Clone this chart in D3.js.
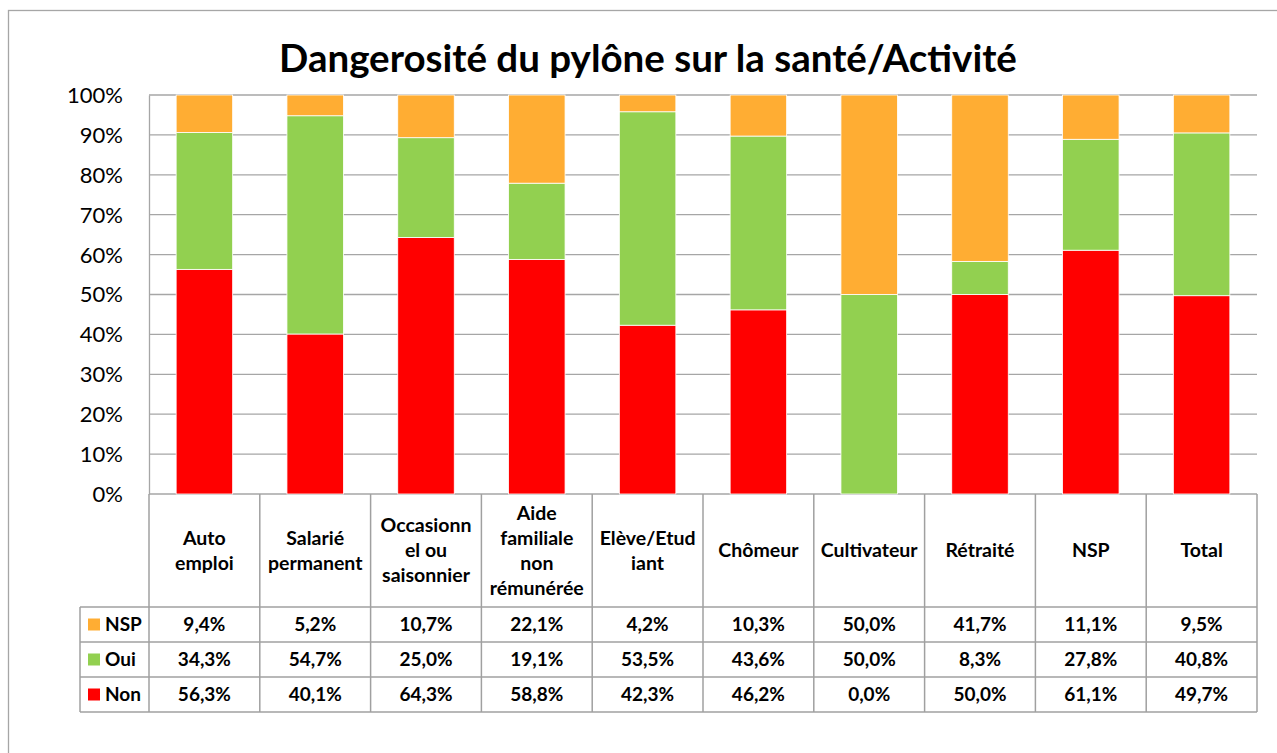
<!DOCTYPE html>
<html>
<head>
<meta charset="utf-8">
<script src="https://cdn.jsdelivr.net/npm/d3@7"></script>
<style>
  body { margin: 0; background: #fff; }
  svg text { font-family: Lato, "Open Sans", sans-serif; fill: #000; }
</style>
</head>
<body>
<svg id="chart" width="1277" height="753"></svg>
<script>
// categories, with the line breaks used in the data table
var categories = ["Auto emploi", "Salarié permanent", "Occasionnel ou saisonnier",
  "Aide familiale non rémunérée", "Elève/Etudiant", "Chômeur", "Cultivateur",
  "Rétraité", "NSP", "Total"];
var categoryLines = [["Auto", "emploi"], ["Salarié", "permanent"], ["Occasionn", "el ou", "saisonnier"],
  ["Aide", "familiale", "non", "rémunérée"], ["Elève/Etud", "iant"], ["Chômeur"], ["Cultivateur"],
  ["Rétraité"], ["NSP"], ["Total"]];

// series (percent)
var nsp = [9.4, 5.2, 10.7, 22.1, 4.2, 10.3, 50.0, 41.7, 11.1, 9.5];
var oui = [34.3, 54.7, 25.0, 19.1, 53.5, 43.6, 50.0, 8.3, 27.8, 40.8];
var non = [56.3, 40.1, 64.3, 58.8, 42.3, 46.2, 0.0, 50.0, 61.1, 49.7];

var seriesNames = ["Non", "Oui", "NSP"];   // stack order, bottom to top
var tableOrder = ["NSP", "Oui", "Non"];    // data table order
var colors = {Non: "#FF0000", Oui: "#92D050", NSP: "#FFAD33"};
var yTicks = [0, 0.1, 0.2, 0.3, 0.4, 0.5, 0.6, 0.7, 0.8, 0.9, 1];

var title = "Dangerosité du pylône sur la santé/Activité";

// build rows for the stack
var values = {Non: non, Oui: oui, NSP: nsp};
var rows = categories.map(function(c, i) {
  var r = {cat: c};
  seriesNames.forEach(function(s) { r[s] = values[s][i]; });
  return r;
});

var svg = d3.select("#chart");

// outer chart border
svg.append("rect")
  .attr("x", 8.5).attr("y", 10.5)
  .attr("width", 1300).attr("height", 800)
  .attr("fill", "none").attr("stroke", "#A6A6A6").attr("stroke-width", 1.3);

var plot = {left: 149, right: 1257, top: 95, bottom: 494};
var tableRows = {head: 607, rowH: 35};

var x = d3.scaleBand()
  .domain(categories)
  .range([plot.left, plot.right])
  .paddingInner(0.49).paddingOuter(0.245);

var y = d3.scaleLinear().domain([0, 1]).range([plot.bottom, plot.top]);

// grid
svg.append("g")
  .selectAll("line").data(yTicks).join("line")
  .attr("x1", plot.left).attr("x2", plot.right)
  .attr("y1", function(d) { return y(d); }).attr("y2", function(d) { return y(d); })
  .attr("stroke", "#A6A6A6").attr("stroke-width", 1.3);

// y axis
var yAxis = svg.append("g")
  .attr("transform", "translate(" + plot.left + ",0)")
  .call(d3.axisLeft(y).tickValues(yTicks).tickFormat(d3.format(".0%")).tickSize(0).tickPadding(26));
yAxis.select(".domain").attr("stroke", "#A6A6A6").attr("stroke-width", 1.3);
yAxis.selectAll("text").attr("font-size", 22).attr("font-family", "Lato").attr("dy", "0.34em");

// stacked bars, normalised to 100%
var stack = d3.stack().keys(seriesNames).offset(d3.stackOffsetExpand);
var layers = stack(rows);

svg.append("g")
  .selectAll("g").data(layers).join("g")
  .attr("fill", function(d) { return colors[d.key]; })
  .selectAll("rect").data(function(d) { return d; }).join("rect")
  .attr("x", function(d) { return x(d.data.cat); })
  .attr("width", x.bandwidth())
  .attr("y", function(d) { return y(d[1]); })
  .attr("height", function(d) { return y(d[0]) - y(d[1]); })
  .attr("stroke", "#fff").attr("stroke-width", 0.8);

// data table
var table = svg.append("g");
var colStep = x.step();
var colEdges = categories.map(function(c, i) { return plot.left + i * colStep; });
colEdges.push(plot.right);
var tableBottom = tableRows.head + tableRows.rowH * 3;
var legendLeft = 80;
var lineColor = "#A0A0A0";

// vertical lines
table.selectAll("line.v").data(colEdges).join("line")
  .attr("class", "v")
  .attr("x1", function(d) { return d; }).attr("x2", function(d) { return d; })
  .attr("y1", plot.bottom).attr("y2", tableBottom)
  .attr("stroke", lineColor).attr("stroke-width", 1.5);
table.append("line")
  .attr("x1", legendLeft).attr("x2", legendLeft)
  .attr("y1", tableRows.head).attr("y2", tableBottom)
  .attr("stroke", lineColor).attr("stroke-width", 1.5);

// horizontal lines
var hLines = [0, 1, 2, 3].map(function(i) { return tableRows.head + i * tableRows.rowH; });
table.selectAll("line.h").data(hLines).join("line")
  .attr("class", "h")
  .attr("x1", legendLeft).attr("x2", plot.right)
  .attr("y1", function(d) { return d; }).attr("y2", function(d) { return d; })
  .attr("stroke", lineColor).attr("stroke-width", 1.5);

// header labels
var headCenter = (plot.bottom + tableRows.head) / 2;
var lineH = 25;
categories.forEach(function(c, i) {
  var lines = categoryLines[i];
  var t = table.append("text")
    .attr("text-anchor", "middle")
    .attr("font-size", 19.5).attr("font-weight", "bold");
  lines.forEach(function(l, j) {
    t.append("tspan")
      .attr("x", x(c) + x.bandwidth() / 2)
      .attr("y", headCenter + (j - (lines.length - 1) / 2) * lineH)
      .attr("dy", "0.35em")
      .text(l);
  });
});

// rows
var fmt = function(v) { return v.toFixed(1).replace(".", ",") + "%"; };
tableOrder.forEach(function(s, r) {
  var cy = tableRows.head + r * tableRows.rowH + tableRows.rowH / 2;
  table.append("rect")
    .attr("x", 88).attr("y", cy - 6).attr("width", 12).attr("height", 12)
    .attr("fill", colors[s]);
  table.append("text")
    .attr("x", 105).attr("y", cy).attr("dy", "0.35em")
    .attr("font-size", 19).attr("font-weight", "bold")
    .text(s);
  table.selectAll(null).data(values[s]).join("text")
    .attr("x", function(d, i) { return x(categories[i]) + x.bandwidth() / 2; })
    .attr("y", cy).attr("dy", "0.35em")
    .attr("text-anchor", "middle")
    .attr("font-size", 19).attr("font-weight", "bold")
    .text(fmt);
});

// title
svg.append("text")
  .attr("x", 648).attr("y", 72)
  .attr("text-anchor", "middle")
  .attr("font-size", 38.5).attr("font-weight", "bold")
  .text(title);
</script>
</body>
</html>
